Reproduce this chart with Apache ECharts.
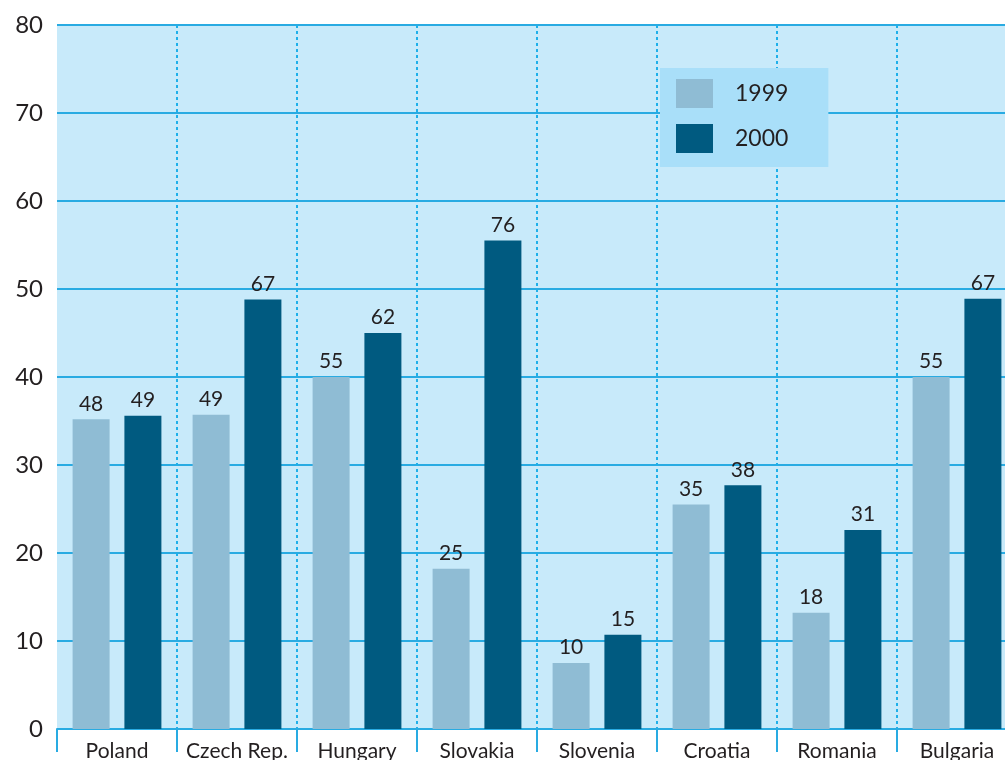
<!DOCTYPE html>
<html>
<head>
<meta charset="utf-8">
<script src="https://cdn.jsdelivr.net/npm/echarts@6/dist/echarts.min.js"></script>
<style>html,body{margin:0;padding:0;background:#fff}#c{width:1005px;height:760px}</style>
</head>
<body>
<div id="c"></div>
<script>
const categories = ['Poland', 'Czech Rep.', 'Hungary', 'Slovakia', 'Slovenia', 'Croatia', 'Romania', 'Bulgaria'];
// bar heights as drawn against the axis
const heights1999 = [35.2, 35.7, 40.0, 18.2, 7.5, 25.5, 13.2, 40.0];
const heights2000 = [35.6, 48.8, 45.0, 55.5, 10.7, 27.7, 22.6, 48.9];
// printed value labels
const labels1999 = [48, 49, 55, 25, 10, 35, 18, 55];
const labels2000 = [49, 67, 62, 76, 15, 38, 31, 67];
const yTicks = [0, 10, 20, 30, 40, 50, 60, 70, 80];

const FONT = 'Lato, "DejaVu Sans", sans-serif';
const TXT = '#231f20';
const BLUE = '#29abe2';

const chart = echarts.init(document.getElementById('c'));
chart.setOption({
  animation: false,
  grid: { left: 57, top: 25, width: 960, height: 704, backgroundColor: '#c8eafa', show: true, borderWidth: 0, outerBoundsMode: 'none', containLabel: false },
  legend: {
    orient: 'vertical', left: 660, top: 68,
    backgroundColor: '#a9dff9',
    padding: [11, 40, 14, 16],
    itemWidth: 37, itemHeight: 29, itemGap: 16,
    textStyle: { fontFamily: FONT, fontSize: 23, color: TXT, padding: [0, 0, 0, 17] },
    icon: 'rect',
    data: ['1999', '2000']
  },
  xAxis: {
    type: 'category', data: categories,
    axisLine: { lineStyle: { color: BLUE, width: 2 } },
    axisTick: { show: true, length: 23, lineStyle: { color: BLUE, width: 2 } },
    axisLabel: { fontFamily: FONT, fontSize: 21, color: TXT, margin: 12, interval: 0 },
    splitLine: { show: true, interval: function (i) { return i > 0; }, lineStyle: { color: '#1fb0ea', width: 2, type: [3, 3] } }
  },
  yAxis: {
    type: 'value', min: yTicks[0], max: yTicks[yTicks.length - 1], interval: 10,
    axisLine: { show: false }, axisTick: { show: false },
    axisLabel: { fontFamily: FONT, fontSize: 24, color: TXT, margin: 14 },
    splitLine: { lineStyle: { color: BLUE, width: 2 } }
  },
  series: [
    {
      name: '1999', type: 'bar', data: heights1999, barWidth: 37, barGap: '40%',
      itemStyle: { color: '#8fbcd4' },
      label: { show: true, position: 'top', distance: 5, fontFamily: FONT, fontSize: 21, color: TXT,
        formatter: p => String(labels1999[p.dataIndex]) }
    },
    {
      name: '2000', type: 'bar', data: heights2000, barWidth: 37, barGap: '40%',
      itemStyle: { color: '#005a80' },
      label: { show: true, position: 'top', distance: 5, fontFamily: FONT, fontSize: 21, color: TXT,
        formatter: p => String(labels2000[p.dataIndex]) }
    }
  ]
});
</script>
</body>
</html>
